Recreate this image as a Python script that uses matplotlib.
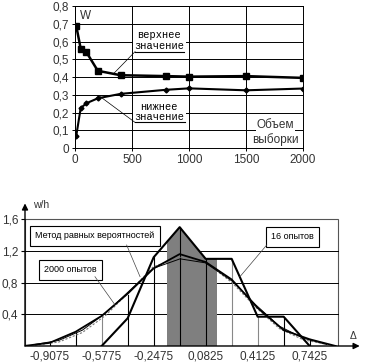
import numpy as np
import matplotlib
matplotlib.use("Agg")
import matplotlib.pyplot as plt
from matplotlib.patches import Rectangle

plt.rcParams['font.family'] = ['Liberation Sans', 'DejaVu Sans']

# ---- top chart data ----
sizes = [10, 50, 100, 200, 400, 800, 1000, 1500, 2000]
upper = [0.69, 0.56, 0.54, 0.435, 0.41, 0.405, 0.402, 0.405, 0.395]
lower = [0.065, 0.225, 0.252, 0.28, 0.305, 0.328, 0.336, 0.325, 0.335]
top_yticks = [0, 0.1, 0.2, 0.3, 0.4, 0.5, 0.6, 0.7, 0.8]
top_ylabels = ["0", "0,1", "0,2", "0,3", "0,4", "0,5", "0,6", "0,7", "0,8"]
top_xticks = [0, 500, 1000, 1500, 2000]

# ---- bottom chart data ----
edges = [-1.0725, -0.9075, -0.7425, -0.5775, -0.4125, -0.2475, -0.0825,
         0.0825, 0.2475, 0.4125, 0.5775, 0.7425, 0.9075]
w2000 = [0, 0.04, 0.18, 0.38, 0.66, 0.98, 1.16, 1.06, 0.84, 0.48, 0.2, 0.085, 0]
x16 = [-0.5775, -0.4125, -0.2475, -0.0825, 0.0825, 0.2475, 0.4125, 0.5775, 0.7425]
w16 = [0, 0.35, 1.12, 1.5, 1.1, 1.1, 0.37, 0.37, 0]
x_eq = [-1.0, -0.85, -0.7, -0.55, -0.4, -0.25, -0.08, 0.08, 0.25, 0.4, 0.55, 0.7, 0.85]
w_eq = [0.02, 0.07, 0.2, 0.42, 0.7, 0.98, 1.1, 1.05, 0.82, 0.52, 0.25, 0.1, 0.02]
w_norm = [0.01, 0.05, 0.17, 0.39, 0.69, 1.0, 1.12, 1.06, 0.8, 0.49, 0.22, 0.08, 0.02]
drop_x = edges[1:-1]
drop_h = [0.04, 0.17, 0.39, 0.64, 1.12, 1.5, 1.1, 1.1, 0.37, 0.37, 0.09]
fill_range = (-0.16, 0.157)
bot_xticks = [-0.9075, -0.5775, -0.2475, 0.0825, 0.4125, 0.7425]
bot_xlabels = ["-0,9075", "-0,5775", "-0,2475", "0,0825", "0,4125", "0,7425"]
bot_yticks = [0.4, 0.8, 1.2, 1.6]
bot_ylabels = ["0,4", "0,8", "1,2", "1,6"]

fig = plt.figure(figsize=(3.65, 3.62), dpi=100)

# ==============================
# Top chart
# ==============================
ax1 = fig.add_axes([75/365, 1-148/362, 228/365, 142/362])
ax1.set_xlim(0, 2000)
ax1.set_ylim(0, 0.8)
ax1.set_yticks(top_yticks)
ax1.set_yticklabels(top_ylabels)
ax1.set_xticks(top_xticks)
ax1.grid(True, color='black', lw=0.7)
ax1.tick_params(direction='inout', length=5, width=0.7, labelsize=8.5,
                labelcolor='#333333', pad=2)
for s in ax1.spines.values():
    s.set_linewidth(0.7)

ax1.plot(sizes, upper, color='black', lw=1.8, marker='s', ms=4.5, zorder=3)
ax1.plot(sizes, lower, color='black', lw=1.5, marker='D', ms=2.5, zorder=3)

mono = ['Liberation Mono', 'DejaVu Sans Mono']
lbl = dict(family=mono, fontsize=7.5, ha='center', va='baseline',
           bbox=dict(fc='white', ec='none', pad=0.8), zorder=4)
ax1.text(44, 0.745, "W", fontsize=8.5, va='center', color='#333333')
ax1.text(740, 0.622, "верхнее", **lbl)
ax1.text(740, 0.557, "значение", **lbl)
ax1.plot([527, 952], [0.543, 0.543], color='black', lw=0.8, zorder=5)
ax1.plot([337, 527], [0.418, 0.543], color='black', lw=0.5, zorder=5)
ax1.text(740, 0.215, "нижнее", **lbl)
ax1.text(740, 0.155, "значение", **lbl)
ax1.plot([527, 966], [0.144, 0.144], color='black', lw=0.8, zorder=5)
ax1.plot([220, 527], [0.29, 0.144], color='black', lw=0.5, zorder=5)
ax1.text(1757, 0.131, "Объем", fontsize=8.5, ha='center', va='center',
         color='#333333', bbox=dict(fc='white', ec='none', pad=0.5))
ax1.text(1757, 0.047, "выборки", fontsize=8.5, ha='center', va='center',
         color='#333333', bbox=dict(fc='white', ec='none', pad=0.5))

# ==============================
# Bottom chart
# ==============================
ax2 = fig.add_axes([25/365, 1-346/362, 334.7/365, 142.6/362])
ax2.set_xlim(-1.064, 1.06)
ax2.set_ylim(0, 1.8)
for s in ax2.spines.values():
    s.set_visible(False)

# plot area frame and grid
ax2.add_patch(Rectangle((-1.064, 0), 0.92 + 1.064, 1.6, fill=False,
                        ec='#555555', lw=0.8, zorder=1))
for gy in [0.4, 0.8, 1.2]:
    ax2.plot([-1.064, 0.92], [gy, gy], color='black', lw=0.7, zorder=1)

# dark shaded area under 16-trial polygon
poly = ax2.fill(x16, w16, color='#7f7f7f', lw=0, zorder=2)[0]
clip = Rectangle((fill_range[0], 0), fill_range[1] - fill_range[0], 2,
                 transform=ax2.transData)
poly.set_clip_path(clip)

# drop lines at bin edges
drop_col = ['black', 'black', '#888888', 'black', 'black', 'black', 'black',
            '#888888', '#888888', 'black', 'black']
for xv, hv, c in zip(drop_x, drop_h, drop_col):
    ax2.plot([xv, xv], [0, hv], color=c, lw=0.8, zorder=2)

ax2.plot(x_eq, w_norm, color='#777777', lw=0.8, ls=(0, (2, 1.5)), zorder=3)
ax2.plot(x_eq, w_eq, color='black', lw=0.7, zorder=3)
ax2.plot(edges, w2000, color='black', lw=1.3, zorder=4)
ax2.plot(x16, w16, color='black', lw=1.5, zorder=4)

# axes with arrows
ax2.annotate('', xy=(1.06, 0), xytext=(-1.064, 0),
             arrowprops=dict(arrowstyle='-|>', color='black', lw=1.0,
                             mutation_scale=9, shrinkA=0, shrinkB=0))
ax2.annotate('', xy=(-1.064, 1.8), xytext=(-1.064, 0),
             arrowprops=dict(arrowstyle='-|>', color='black', lw=1.0,
                             mutation_scale=9, shrinkA=0, shrinkB=0))

ax2.set_xticks(bot_xticks)
ax2.set_xticklabels(bot_xlabels)
ax2.set_yticks(bot_yticks)
ax2.set_yticklabels(bot_ylabels)
ax2.tick_params(axis='x', length=0, pad=3, labelsize=8.5, labelcolor='#333333')
ax2.tick_params(axis='y', length=3, width=0.8, pad=2, labelsize=8.5,
                labelcolor='#333333')

ax2.text(-1.013, 1.78, "w/h", fontsize=7.5, va='center', color='#333333')
ax2.text(1.017, 0.13, "Δ", fontsize=7.5, ha='center', va='center', color='#333333')

box = dict(boxstyle='square,pad=0.6', fc='white', ec='black', lw=0.8)
ax2.text(-0.62, 1.39, "Метод равных вероятностей", fontsize=6.5, ha='center',
         va='center', bbox=box, zorder=5)
ax2.plot([-0.419, -0.334], [1.275, 0.875], color='#444444', lw=0.5, zorder=5)
ax2.text(-0.775, 0.96, "2000 опытов", fontsize=6.5, ha='center', va='center',
         bbox=box, zorder=5)
ax2.plot([-0.62, -0.493], [0.875, 0.52], color='#444444', lw=0.5, zorder=5)
ax2.text(0.633, 1.38, "16 опытов", fontsize=6.5, ha='center', va='center',
         bbox=box, zorder=5)
ax2.plot([0.47, 0.30], [1.275, 0.875], color='#444444', lw=0.5, zorder=5)

fig.savefig("out.png", dpi=100)
